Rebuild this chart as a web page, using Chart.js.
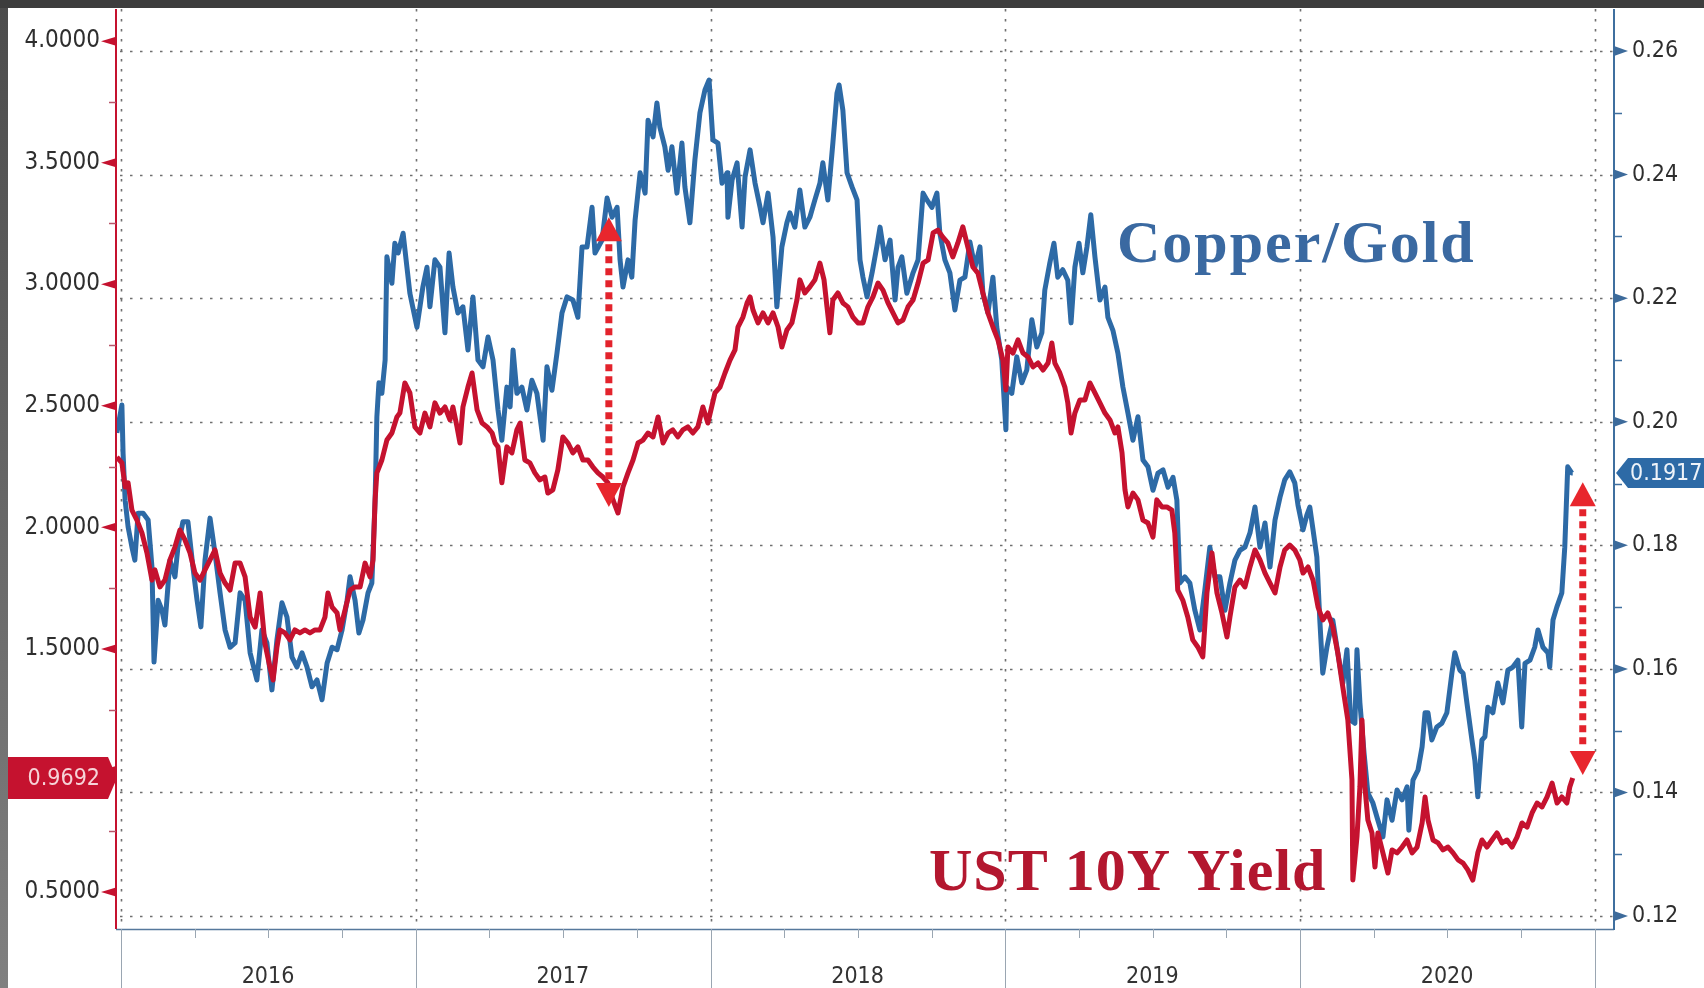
<!DOCTYPE html>
<html>
<head>
<meta charset="utf-8">
<title>Copper/Gold vs UST 10Y Yield</title>
<script src="https://cdn.jsdelivr.net/npm/chart.js@4.4.0/dist/chart.umd.min.js"></script>
<style>
  html, body { margin: 0; padding: 0; background: #fff; overflow: hidden; }
  #wrap { position: relative; width: 1704px; height: 988px; }
</style>
</head>
<body>
<div id="wrap"><canvas id="chart" width="1704" height="988"></canvas></div>
<script>
// dates are decimal years
const cuAuDates = [
  2015.986, 2016.003, 2016.007, 2016.014, 2016.024, 2016.037, 2016.047, 2016.058, 2016.075, 2016.092,
  2016.105, 2016.112, 2016.126, 2016.139, 2016.149, 2016.166, 2016.183, 2016.193, 2016.210, 2016.227,
  2016.244, 2016.258, 2016.271, 2016.285, 2016.302, 2016.319, 2016.336, 2016.353, 2016.370, 2016.387,
  2016.404, 2016.421, 2016.438, 2016.461, 2016.478, 2016.495, 2016.512, 2016.529, 2016.546, 2016.563,
  2016.580, 2016.597, 2016.614, 2016.631, 2016.648, 2016.665, 2016.682, 2016.699, 2016.716, 2016.733,
  2016.750, 2016.767, 2016.777, 2016.794, 2016.807, 2016.821, 2016.838, 2016.851, 2016.862, 2016.868,
  2016.875, 2016.885, 2016.896, 2016.902, 2016.919, 2016.929, 2016.940, 2016.957, 2016.970, 2016.980,
  2017.004, 2017.024, 2017.038, 2017.048, 2017.065, 2017.082, 2017.099, 2017.113, 2017.126, 2017.143,
  2017.160, 2017.177, 2017.194, 2017.211, 2017.228, 2017.245, 2017.262, 2017.279, 2017.292, 2017.309,
  2017.320, 2017.330, 2017.343, 2017.360, 2017.377, 2017.394, 2017.411, 2017.432, 2017.445, 2017.462,
  2017.479, 2017.496, 2017.513, 2017.533, 2017.550, 2017.564, 2017.581, 2017.598, 2017.608, 2017.632,
  2017.649, 2017.666, 2017.683, 2017.693, 2017.703, 2017.720, 2017.733, 2017.744, 2017.761, 2017.778,
  2017.788, 2017.805, 2017.818, 2017.828, 2017.845, 2017.856, 2017.869, 2017.886, 2017.903, 2017.913,
  2017.930, 2017.947, 2017.964, 2017.981, 2017.995,
  2018.008, 2018.025, 2018.039, 2018.056, 2018.059, 2018.073, 2018.090, 2018.107, 2018.117, 2018.134,
  2018.151, 2018.168, 2018.178, 2018.195, 2018.212, 2018.225, 2018.242, 2018.259, 2018.269, 2018.286,
  2018.303, 2018.320, 2018.337, 2018.354, 2018.371, 2018.381, 2018.398, 2018.415, 2018.429, 2018.436,
  2018.449, 2018.463, 2018.480, 2018.497, 2018.507, 2018.517, 2018.531, 2018.548, 2018.564, 2018.575,
  2018.592, 2018.609, 2018.626, 2018.636, 2018.649, 2018.666, 2018.687, 2018.704, 2018.721, 2018.734,
  2018.751, 2018.768, 2018.778, 2018.795, 2018.812, 2018.829, 2018.846, 2018.863, 2018.880, 2018.897,
  2018.914, 2018.924, 2018.941, 2018.958, 2018.971, 2018.988,
  2019.002, 2019.005, 2019.022, 2019.039, 2019.056, 2019.073, 2019.090, 2019.107, 2019.124, 2019.134,
  2019.151, 2019.165, 2019.178, 2019.195, 2019.212, 2019.223, 2019.236, 2019.250, 2019.263, 2019.277,
  2019.290, 2019.304, 2019.321, 2019.338, 2019.348, 2019.365, 2019.382, 2019.399, 2019.416, 2019.433,
  2019.450, 2019.467, 2019.484, 2019.501, 2019.518, 2019.535, 2019.552, 2019.569, 2019.582, 2019.592,
  2019.609, 2019.626, 2019.643, 2019.660, 2019.677, 2019.694, 2019.711, 2019.728, 2019.745, 2019.762,
  2019.779, 2019.796, 2019.813, 2019.830, 2019.847, 2019.864, 2019.881, 2019.898, 2019.915, 2019.932,
  2019.948, 2019.965, 2019.982, 2019.993,
  2020.010, 2020.023, 2020.033, 2020.044, 2020.057, 2020.067, 2020.077, 2020.091, 2020.101, 2020.111,
  2020.128, 2020.145, 2020.159, 2020.172, 2020.186, 2020.193, 2020.203, 2020.217, 2020.230, 2020.247,
  2020.264, 2020.281, 2020.295, 2020.312, 2020.329, 2020.346, 2020.363, 2020.369, 2020.383, 2020.400,
  2020.414, 2020.424, 2020.434, 2020.447, 2020.464, 2020.481, 2020.498, 2020.515, 2020.525, 2020.542,
  2020.553, 2020.566, 2020.583, 2020.593, 2020.603, 2020.617, 2020.627, 2020.637, 2020.654, 2020.671,
  2020.688, 2020.705, 2020.722, 2020.739, 2020.752, 2020.763, 2020.780, 2020.796, 2020.807, 2020.824,
  2020.841, 2020.847, 2020.858, 2020.871, 2020.888, 2020.898, 2020.908, 2020.922, 2020.925
];
const cuAuValues = [
  0.1982, 0.2027, 0.1949, 0.1873, 0.1830, 0.1797, 0.1776, 0.1852, 0.1852, 0.1841,
  0.1765, 0.1611, 0.1711, 0.1695, 0.1671, 0.1776, 0.1749, 0.1797, 0.1838, 0.1838,
  0.1765, 0.1711, 0.1668, 0.1776, 0.1844, 0.1787, 0.1723, 0.1663, 0.1635, 0.1642,
  0.1723, 0.1711, 0.1626, 0.1582, 0.1663, 0.1642, 0.1566, 0.1647, 0.1707, 0.1684,
  0.1619, 0.1603, 0.1626, 0.1603, 0.1571, 0.1582, 0.1550, 0.1609, 0.1635, 0.1631,
  0.1663, 0.1711, 0.1749, 0.1711, 0.1658, 0.1679, 0.1723, 0.1739, 0.1873, 0.2008,
  0.2063, 0.2046, 0.2100, 0.2267, 0.2224, 0.2289, 0.2273, 0.2305, 0.2250, 0.2208,
  0.2153, 0.2218, 0.2250, 0.2186, 0.2262, 0.2250, 0.2144, 0.2273, 0.2218, 0.2176,
  0.2186, 0.2116, 0.2202, 0.2100, 0.2089, 0.2137, 0.2100, 0.2019, 0.1970, 0.2056,
  0.2024, 0.2116, 0.2046, 0.2056, 0.2019, 0.2067, 0.2046, 0.1970, 0.2089, 0.2051,
  0.2111, 0.2176, 0.2202, 0.2197, 0.2169, 0.2283, 0.2283, 0.2347, 0.2273, 0.2294,
  0.2362, 0.2331, 0.2347, 0.2262, 0.2218, 0.2262, 0.2234, 0.2326, 0.2403, 0.2370,
  0.2488, 0.2461, 0.2516, 0.2477, 0.2445, 0.2407, 0.2445, 0.2370, 0.2451, 0.2380,
  0.2322, 0.2424, 0.2500, 0.2537, 0.2553,
  0.2456, 0.2451, 0.2386, 0.2403, 0.2331, 0.2391, 0.2419, 0.2315, 0.2396, 0.2440,
  0.2386, 0.2347, 0.2322, 0.2370, 0.2299, 0.2186, 0.2283, 0.2322, 0.2338, 0.2315,
  0.2375, 0.2315, 0.2331, 0.2359, 0.2386, 0.2419, 0.2359, 0.2451, 0.2532, 0.2545,
  0.2504, 0.2403, 0.2380, 0.2359, 0.2262, 0.2234, 0.2202, 0.2241, 0.2283, 0.2315,
  0.2262, 0.2294, 0.2197, 0.2250, 0.2267, 0.2208, 0.2241, 0.2262, 0.2370, 0.2359,
  0.2347, 0.2370, 0.2305, 0.2262, 0.2241, 0.2181, 0.2229, 0.2234, 0.2291, 0.2250,
  0.2283, 0.2208, 0.2176, 0.2234, 0.2153, 0.2100,
  0.1987, 0.2056, 0.2046, 0.2105, 0.2063, 0.2084, 0.2165, 0.2121, 0.2144, 0.2213,
  0.2257, 0.2289, 0.2234, 0.2246, 0.2229, 0.2160, 0.2250, 0.2289, 0.2241, 0.2283,
  0.2335, 0.2267, 0.2197, 0.2218, 0.2169, 0.2148, 0.2111, 0.2056, 0.2014, 0.1970,
  0.2008, 0.1938, 0.1927, 0.1889, 0.1917, 0.1922, 0.1894, 0.1910, 0.1873, 0.1739,
  0.1749, 0.1739, 0.1695, 0.1663, 0.1728, 0.1797, 0.1749, 0.1749, 0.1695, 0.1739,
  0.1776, 0.1792, 0.1797, 0.1820, 0.1862, 0.1797, 0.1836, 0.1765, 0.1841, 0.1878,
  0.1906, 0.1919, 0.1901, 0.1865,
  0.1825, 0.1849, 0.1862, 0.1825, 0.1781, 0.1679, 0.1593, 0.1635, 0.1658, 0.1679,
  0.1626, 0.1577, 0.1631, 0.1517, 0.1512, 0.1631, 0.1545, 0.1464, 0.1399, 0.1383,
  0.1355, 0.1328, 0.1388, 0.1355, 0.1404, 0.1388, 0.1409, 0.1339, 0.1420, 0.1436,
  0.1474, 0.1529, 0.1529, 0.1485, 0.1506, 0.1512, 0.1529, 0.1593, 0.1626, 0.1598,
  0.1593, 0.1545, 0.1485, 0.1452, 0.1393, 0.1485, 0.1490, 0.1538, 0.1529, 0.1577,
  0.1545, 0.1598, 0.1603, 0.1614, 0.1506, 0.1609, 0.1614, 0.1635, 0.1663, 0.1635,
  0.1626, 0.1603, 0.1679, 0.1700, 0.1723, 0.1797, 0.1927, 0.1917, 0.1917
];

const ust10yDates = [
  2015.986, 2016.003, 2016.014, 2016.024, 2016.037, 2016.054, 2016.071, 2016.088, 2016.105, 2016.115,
  2016.132, 2016.149, 2016.166, 2016.183, 2016.200, 2016.217, 2016.234, 2016.251, 2016.268, 2016.285,
  2016.302, 2016.319, 2016.336, 2016.353, 2016.370, 2016.387, 2016.404, 2016.421, 2016.438, 2016.455,
  2016.472, 2016.488, 2016.505, 2016.516, 2016.529, 2016.539, 2016.556, 2016.573, 2016.590, 2016.607,
  2016.624, 2016.641, 2016.658, 2016.675, 2016.692, 2016.702, 2016.716, 2016.733, 2016.743, 2016.760,
  2016.777, 2016.794, 2016.811, 2016.828, 2016.845, 2016.855, 2016.862, 2016.868, 2016.885, 2016.902,
  2016.919, 2016.936, 2016.946, 2016.963, 2016.980,
  2016.997, 2017.014, 2017.031, 2017.048, 2017.065, 2017.082, 2017.099, 2017.116, 2017.126, 2017.140,
  2017.150, 2017.160, 2017.177, 2017.191, 2017.208, 2017.225, 2017.242, 2017.259, 2017.269, 2017.279,
  2017.292, 2017.309, 2017.326, 2017.343, 2017.354, 2017.370, 2017.387, 2017.404, 2017.421, 2017.438,
  2017.448, 2017.465, 2017.482, 2017.499, 2017.516, 2017.533, 2017.550, 2017.567, 2017.584, 2017.601,
  2017.618, 2017.635, 2017.652, 2017.669, 2017.686, 2017.703, 2017.720, 2017.737, 2017.754, 2017.771,
  2017.788, 2017.805, 2017.822, 2017.839, 2017.856, 2017.872, 2017.889, 2017.906, 2017.923, 2017.940,
  2017.957, 2017.974, 2017.991,
  2018.015, 2018.032, 2018.049, 2018.066, 2018.083, 2018.093, 2018.110, 2018.124, 2018.134, 2018.144,
  2018.161, 2018.178, 2018.195, 2018.212, 2018.229, 2018.242, 2018.259, 2018.276, 2018.293, 2018.303,
  2018.320, 2018.337, 2018.354, 2018.371, 2018.385, 2018.395, 2018.405, 2018.415, 2018.432, 2018.449,
  2018.466, 2018.483, 2018.500, 2018.517, 2018.534, 2018.551, 2018.568, 2018.585, 2018.602, 2018.619,
  2018.636, 2018.653, 2018.670, 2018.687, 2018.704, 2018.721, 2018.738, 2018.755, 2018.771, 2018.788,
  2018.805, 2018.822, 2018.839, 2018.856, 2018.873, 2018.890, 2018.907, 2018.924, 2018.941, 2018.958,
  2018.975, 2018.992,
  2019.002, 2019.009, 2019.026, 2019.043, 2019.060, 2019.077, 2019.094, 2019.111, 2019.128, 2019.145,
  2019.158, 2019.168, 2019.185, 2019.202, 2019.212, 2019.223, 2019.236, 2019.253, 2019.270, 2019.287,
  2019.304, 2019.321, 2019.338, 2019.355, 2019.372, 2019.382, 2019.396, 2019.406, 2019.416, 2019.433,
  2019.450, 2019.467, 2019.484, 2019.501, 2019.514, 2019.531, 2019.548, 2019.565, 2019.575, 2019.585,
  2019.602, 2019.619, 2019.636, 2019.653, 2019.670, 2019.684, 2019.701, 2019.718, 2019.735, 2019.752,
  2019.762, 2019.779, 2019.796, 2019.813, 2019.830, 2019.847, 2019.864, 2019.881, 2019.898, 2019.915,
  2019.932, 2019.948, 2019.965, 2019.982, 2019.999,
  2020.010, 2020.027, 2020.044, 2020.061, 2020.077, 2020.094, 2020.111, 2020.128, 2020.145, 2020.162,
  2020.176, 2020.179, 2020.193, 2020.203, 2020.210, 2020.220, 2020.230, 2020.244, 2020.254, 2020.264,
  2020.281, 2020.298, 2020.312, 2020.329, 2020.346, 2020.363, 2020.380, 2020.397, 2020.414, 2020.424,
  2020.434, 2020.451, 2020.468, 2020.485, 2020.502, 2020.519, 2020.536, 2020.553, 2020.569, 2020.586,
  2020.603, 2020.617, 2020.634, 2020.651, 2020.668, 2020.685, 2020.702, 2020.719, 2020.736, 2020.753,
  2020.770, 2020.787, 2020.804, 2020.821, 2020.838, 2020.855, 2020.872, 2020.888, 2020.905, 2020.915,
  2020.925
];
const ust10yValues = [
  2.289, 2.265, 2.166, 2.183, 2.071, 2.030, 1.977, 1.895, 1.783, 1.825,
  1.755, 1.783, 1.866, 1.919, 1.989, 1.948, 1.895, 1.812, 1.783, 1.825,
  1.866, 1.907, 1.812, 1.771, 1.742, 1.853, 1.853, 1.796, 1.631, 1.590,
  1.730, 1.524, 1.426, 1.372, 1.508, 1.578, 1.566, 1.537, 1.578, 1.566,
  1.578, 1.566, 1.578, 1.578, 1.631, 1.730, 1.672, 1.648, 1.578, 1.660,
  1.742, 1.755, 1.755, 1.853, 1.796, 1.866, 2.113, 2.224, 2.277, 2.359,
  2.388, 2.454, 2.470, 2.594, 2.553,
  2.413, 2.388, 2.470, 2.413, 2.512, 2.470, 2.495, 2.442, 2.495, 2.413,
  2.347, 2.495, 2.577, 2.635, 2.483, 2.429, 2.413, 2.388, 2.347, 2.331,
  2.183, 2.331, 2.306, 2.401, 2.429, 2.277, 2.265, 2.224, 2.195, 2.207,
  2.141, 2.154, 2.236, 2.372, 2.347, 2.306, 2.331, 2.277, 2.277, 2.248,
  2.224, 2.207, 2.183, 2.113, 2.059, 2.166, 2.224, 2.277, 2.347, 2.359,
  2.388, 2.372, 2.454, 2.347, 2.388, 2.401, 2.372, 2.401, 2.413, 2.388,
  2.413, 2.495, 2.429,
  2.553, 2.577, 2.635, 2.688, 2.730, 2.824, 2.865, 2.923, 2.948, 2.894,
  2.841, 2.882, 2.841, 2.882, 2.824, 2.742, 2.812, 2.841, 2.935, 3.018,
  2.964, 2.989, 3.018, 3.087, 3.018, 2.907, 2.800, 2.935, 2.964, 2.923,
  2.907, 2.865, 2.841, 2.841, 2.907, 2.948, 3.005, 2.976, 2.923, 2.882,
  2.841, 2.853, 2.907, 2.935, 3.005, 3.087, 3.100, 3.211, 3.223, 3.194,
  3.170, 3.112, 3.170, 3.236, 3.153, 3.071, 3.046, 2.964, 2.882, 2.824,
  2.771, 2.688,
  2.565, 2.742, 2.717, 2.771, 2.717, 2.701, 2.660, 2.676, 2.647, 2.676,
  2.758, 2.676, 2.635, 2.577, 2.512, 2.388, 2.470, 2.524, 2.524, 2.594,
  2.553, 2.512, 2.470, 2.442, 2.388, 2.413, 2.306, 2.154, 2.084, 2.141,
  2.113, 2.030, 2.018, 1.960, 2.113, 2.084, 2.084, 2.071, 1.977, 1.742,
  1.701, 1.631, 1.537, 1.508, 1.467, 1.730, 1.895, 1.730, 1.648, 1.549,
  1.631, 1.755, 1.783, 1.755, 1.837, 1.907, 1.866, 1.812, 1.771, 1.730,
  1.837, 1.907, 1.927, 1.907, 1.866,
  1.812, 1.837, 1.783, 1.672, 1.619, 1.648, 1.590, 1.483, 1.343, 1.208,
  0.961, 0.549, 0.726, 0.932, 1.208, 0.932, 0.796, 0.743, 0.603, 0.743,
  0.661, 0.578, 0.673, 0.661, 0.685, 0.714, 0.661, 0.685, 0.784, 0.891,
  0.796, 0.714, 0.702, 0.673, 0.685, 0.661, 0.632, 0.619, 0.591, 0.549,
  0.661, 0.714, 0.685, 0.714, 0.743, 0.702, 0.714, 0.685, 0.726, 0.784,
  0.767, 0.825, 0.866, 0.850, 0.891, 0.948, 0.866, 0.891, 0.866, 0.932,
  0.9692
];

const yearTicks = [2016, 2017, 2018, 2019, 2020, 2021];
const leftTicks = [0.5, 1.0, 1.5, 2.0, 2.5, 3.0, 3.5, 4.0];
const leftMinorTicks = [0.75, 1.25, 1.75, 2.25, 2.75, 3.25, 3.75];
const rightTicks = [0.12, 0.14, 0.16, 0.18, 0.20, 0.22, 0.24, 0.26];
const rightMinorTicks = [0.13, 0.15, 0.17, 0.19, 0.21, 0.23, 0.25];

// gap arrows: top tip on Copper/Gold (right axis), bottom tip on the yield (left axis)
const gapArrows = [
  { x: 2017.655, top: 0.2331, bottom: 2.084 },
  { x: 2020.959, top: 0.1902, bottom: 0.981 }
];
const seriesNotes = [
  { text: 'Copper/Gold', x: 2019.379, y: 0.2258, axis: 'yR', color: '#3a69a1', spacing: '2px' },
  { text: 'UST 10Y Yield', x: 2018.741, y: 0.508, axis: 'yL', color: '#b3172f', spacing: '1px' }
];

const RED = '#c5122f';
const BLUE = '#2d6aa6';
const TICK_FONT = "'DejaVu Sans Condensed', 'DejaVu Sans', sans-serif";

const pairs = (xs, ys) => xs.map((x, i) => ({ x, y: ys[i] }));

function fixSize(prop, size) {
  return scale => {
    scale[prop] = size;
    scale.paddingTop = 0; scale.paddingBottom = 0;
    scale.paddingLeft = 0; scale.paddingRight = 0;
  };
}

const dottedGrid = {
  id: 'dottedGrid',
  beforeDraw(chart) {
    const { ctx, width, height } = chart;
    ctx.save();
    ctx.fillStyle = '#ffffff';
    ctx.fillRect(0, 0, width, height);
    ctx.restore();
  },
  beforeDatasetsDraw(chart) {
    const { ctx, chartArea: a, scales } = chart;
    ctx.save();
    ctx.strokeStyle = '#6f6f6f';
    ctx.lineWidth = 1.6;
    ctx.setLineDash([2.5, 7.5]);
    rightTicks.forEach(v => {
      const y = Math.round(scales.yR.getPixelForValue(v)) + 0.5;
      ctx.beginPath(); ctx.moveTo(a.left + 4, y); ctx.lineTo(a.right, y); ctx.stroke();
    });
    yearTicks.forEach(v => {
      const x = Math.round(scales.x.getPixelForValue(v)) + 0.5;
      ctx.beginPath(); ctx.moveTo(x, a.top); ctx.lineTo(x, a.bottom); ctx.stroke();
    });
    ctx.restore();
  }
};

const axisDecor = {
  id: 'axisDecor',
  afterDatasetsDraw(chart) {
    const { ctx, chartArea: a, scales, width, height } = chart;
    const yL = scales.yL, yR = scales.yR, x = scales.x;
    ctx.save();

    // x axis: baseline, quarter ticks, year separators
    ctx.strokeStyle = '#56789c';
    ctx.lineWidth = 1.5;
    ctx.beginPath(); ctx.moveTo(a.left, a.bottom + 0.5); ctx.lineTo(a.right, a.bottom + 0.5); ctx.stroke();
    ctx.strokeStyle = '#9aa6b2';
    ctx.lineWidth = 1;
    yearTicks.forEach(yr => {
      const px = Math.round(x.getPixelForValue(yr)) + 0.5;
      ctx.beginPath(); ctx.moveTo(px, a.bottom); ctx.lineTo(px, height); ctx.stroke();
      if (yr < 2021) {
        [0.25, 0.5, 0.75].forEach(q => {
          const qx = Math.round(x.getPixelForValue(yr + q)) + 0.5;
          ctx.beginPath(); ctx.moveTo(qx, a.bottom); ctx.lineTo(qx, a.bottom + 9); ctx.stroke();
        });
      }
    });

    // left axis (yield)
    ctx.strokeStyle = RED;
    ctx.lineWidth = 2;
    ctx.beginPath(); ctx.moveTo(a.left, a.top); ctx.lineTo(a.left, a.bottom); ctx.stroke();
    ctx.strokeStyle = '#b8566a';
    ctx.lineWidth = 1.5;
    leftMinorTicks.forEach(v => {
      const py = Math.round(yL.getPixelForValue(v)) + 0.5;
      ctx.beginPath(); ctx.moveTo(a.left - 7, py); ctx.lineTo(a.left, py); ctx.stroke();
    });
    ctx.fillStyle = RED;
    leftTicks.forEach(v => {
      const py = yL.getPixelForValue(v);
      ctx.beginPath();
      ctx.moveTo(a.left, py - 4.5); ctx.lineTo(a.left - 15, py); ctx.lineTo(a.left, py + 4.5);
      ctx.closePath(); ctx.fill();
    });

    // right axis (copper/gold)
    ctx.strokeStyle = '#3f6f9f';
    ctx.lineWidth = 2;
    ctx.beginPath(); ctx.moveTo(a.right, a.top); ctx.lineTo(a.right, a.bottom + 1); ctx.stroke();
    ctx.lineWidth = 1.5;
    rightMinorTicks.forEach(v => {
      const py = Math.round(yR.getPixelForValue(v)) + 0.5;
      ctx.beginPath(); ctx.moveTo(a.right, py); ctx.lineTo(a.right + 8, py); ctx.stroke();
    });
    ctx.fillStyle = '#3d6b9b';
    rightTicks.forEach(v => {
      const py = yR.getPixelForValue(v);
      ctx.beginPath();
      ctx.moveTo(a.right, py - 5); ctx.lineTo(a.right + 14, py); ctx.lineTo(a.right, py + 5);
      ctx.closePath(); ctx.fill();
    });

    // last-value boxes
    ctx.font = '23px ' + TICK_FONT;
    ctx.textBaseline = 'middle';
    const lastUst = ust10yValues[ust10yValues.length - 1];
    const ly = yL.getPixelForValue(lastUst);
    ctx.fillStyle = RED;
    ctx.beginPath();
    ctx.moveTo(0, ly - 21); ctx.lineTo(a.left - 8, ly - 21); ctx.lineTo(a.left + 1, ly);
    ctx.lineTo(a.left - 8, ly + 21); ctx.lineTo(0, ly + 21); ctx.closePath(); ctx.fill();
    ctx.fillStyle = '#f6d3d8';
    ctx.textAlign = 'right';
    ctx.fillText(lastUst.toFixed(4), a.left - 16, ly + 1);

    const lastCuAu = cuAuValues[cuAuValues.length - 1];
    const ry = yR.getPixelForValue(lastCuAu);
    ctx.fillStyle = BLUE;
    ctx.beginPath();
    ctx.moveTo(a.right + 2, ry); ctx.lineTo(a.right + 14, ry - 15); ctx.lineTo(width, ry - 15);
    ctx.lineTo(width, ry + 15); ctx.lineTo(a.right + 14, ry + 15); ctx.closePath(); ctx.fill();
    ctx.fillStyle = '#eef3f9';
    ctx.textAlign = 'left';
    ctx.fillText(lastCuAu.toFixed(4), a.right + 16, ry + 1);

    // series names
    ctx.font = "bold 60px 'Liberation Serif', 'DejaVu Serif', serif";
    ctx.textBaseline = 'alphabetic';
    seriesNotes.forEach(n => {
      if ('letterSpacing' in ctx) ctx.letterSpacing = n.spacing;
      ctx.fillStyle = n.color;
      ctx.fillText(n.text, x.getPixelForValue(n.x), scales[n.axis].getPixelForValue(n.y));
    });
    if ('letterSpacing' in ctx) ctx.letterSpacing = '0px';

    // dotted double arrows
    gapArrows.forEach(g => {
      const px = x.getPixelForValue(g.x);
      const yTop = yR.getPixelForValue(g.top);
      const yBot = yL.getPixelForValue(g.bottom);
      const headH = 24, headW = 13;
      ctx.strokeStyle = '#e3232c';
      ctx.lineWidth = 7;
      ctx.setLineDash([7, 5]);
      ctx.beginPath(); ctx.moveTo(px, yTop + headH + 3); ctx.lineTo(px, yBot - headH - 3); ctx.stroke();
      ctx.setLineDash([]);
      ctx.fillStyle = '#e8262d';
      ctx.beginPath();
      ctx.moveTo(px, yTop); ctx.lineTo(px + headW, yTop + headH); ctx.lineTo(px - headW, yTop + headH);
      ctx.closePath(); ctx.fill();
      ctx.beginPath();
      ctx.moveTo(px, yBot); ctx.lineTo(px + headW, yBot - headH); ctx.lineTo(px - headW, yBot - headH);
      ctx.closePath(); ctx.fill();
    });
    ctx.restore();
  },
  afterDraw(chart) {
    // screenshot frame: dark strip on top, grey strip on the left
    const { ctx, width, height } = chart;
    ctx.save();
    ctx.fillStyle = '#3d3d3d';
    ctx.fillRect(0, 0, width, 8);
    const g = ctx.createLinearGradient(0, 0, 0, height);
    g.addColorStop(0, '#4c4c4c');
    g.addColorStop(1, '#808080');
    ctx.fillStyle = g;
    ctx.fillRect(0, 8, 8, height - 8);
    ctx.restore();
  }
};

new Chart(document.getElementById('chart'), {
  type: 'line',
  data: {
    datasets: [
      {
        label: 'UST 10Y Yield',
        data: pairs(ust10yDates, ust10yValues),
        yAxisID: 'yL',
        borderColor: RED,
        borderWidth: 5,
        pointRadius: 0,
        tension: 0,
        borderJoinStyle: 'round',
        order: 1
      },
      {
        label: 'Copper/Gold',
        data: pairs(cuAuDates, cuAuValues),
        yAxisID: 'yR',
        borderColor: BLUE,
        borderWidth: 5,
        pointRadius: 0,
        tension: 0,
        borderJoinStyle: 'round',
        order: 2
      }
    ]
  },
  options: {
    responsive: false,
    devicePixelRatio: 1,
    animation: false,
    events: [],
    layout: { padding: { top: 9, left: 0, right: 0, bottom: 0 } },
    plugins: { legend: { display: false }, tooltip: { enabled: false } },
    scales: {
      x: {
        type: 'linear',
        position: 'bottom',
        min: 2015.983,
        max: 2021.065,
        afterBuildTicks: s => { s.ticks = yearTicks.map(v => ({ value: v })); },
        afterFit: fixSize('height', 59),
        grid: { display: false, drawTicks: false },
        border: { display: false },
        ticks: {
          autoSkip: false,
          maxRotation: 0,
          padding: 34,
          labelOffset: 147,
          color: '#333333',
          font: { family: TICK_FONT, size: 23 },
          callback: v => (v < 2021 ? String(v) : '')
        }
      },
      yL: {
        type: 'linear',
        position: 'left',
        min: 0.3478,
        max: 4.1322,
        afterBuildTicks: s => { s.ticks = leftTicks.map(v => ({ value: v })); },
        afterFit: fixSize('width', 116),
        grid: { display: false, drawTicks: false },
        border: { display: false },
        ticks: {
          padding: 16,
          color: '#2e2e2e',
          font: { family: TICK_FONT, size: 24 },
          callback: v => v.toFixed(4)
        }
      },
      yR: {
        type: 'linear',
        position: 'right',
        min: 0.1179,
        max: 0.2668,
        afterBuildTicks: s => { s.ticks = rightTicks.map(v => ({ value: v })); },
        afterFit: fixSize('width', 90),
        grid: { display: false, drawTicks: false },
        border: { display: false },
        ticks: {
          padding: 18,
          color: '#2e2e2e',
          font: { family: TICK_FONT, size: 23 },
          callback: v => v.toFixed(2)
        }
      }
    }
  },
  plugins: [dottedGrid, axisDecor]
});
</script>
</body>
</html>
